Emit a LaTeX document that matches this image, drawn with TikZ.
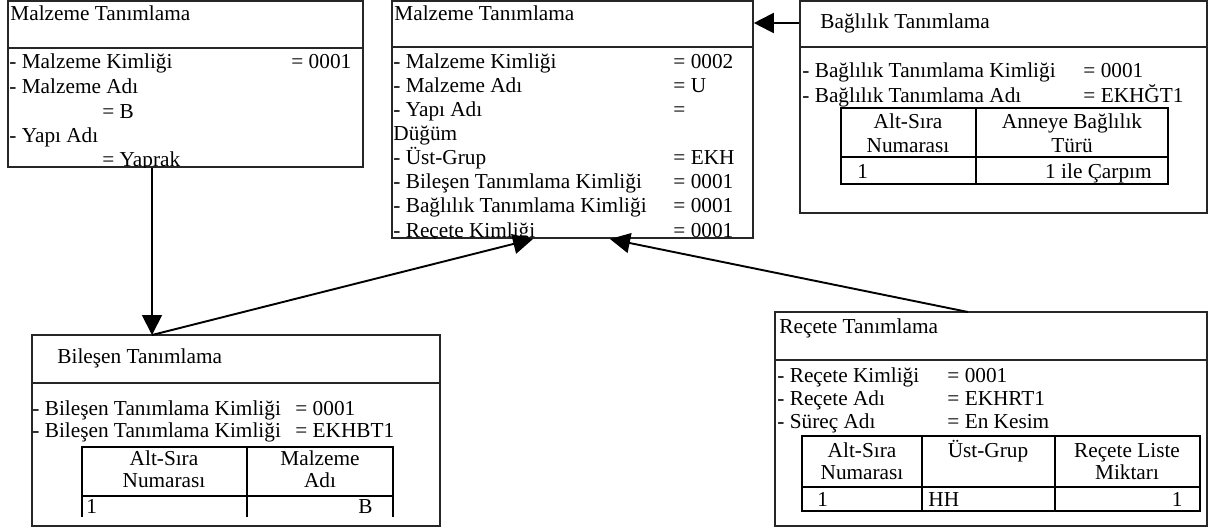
\documentclass[tikz,border=0pt]{standalone}
\usepackage{fontspec}
\setmainfont{Liberation Serif}
\usetikzlibrary{arrows.meta, positioning, fit}
\tikzset{
  umlbox/.style={draw=black!85, line width=0.75pt, inner sep=0pt},
  tblline/.style={line width=0.95pt},
  txt/.style={anchor=base west, inner sep=0pt},
  ctxt/.style={anchor=base, inner sep=0pt},
  rtxt/.style={anchor=base east, inner sep=0pt},
  conn/.style={line width=0.9pt, -{Triangle[length=9.4pt, width=9.4pt]}},
}

\begin{document}
\begin{tikzpicture}[x=0.47pt, y=-0.47pt, font=\fontsize{10}{12}\selectfont]
  \useasboundingbox (0,0) rectangle (1214,531);

  % Malzeme (Yaprak)
  \node[umlbox, fit={(8,1)(363,167)}] (malzA) {};
  \draw[umlbox] (8,48) -- (363,48);
  \begin{scope}
    \clip (malzA.north west) rectangle (malzA.south east);
    \node[txt] (aT) at (10,20) {Malzeme Tanımlama};
    \node[txt] (a1) at (9,68) {- Malzeme Kimliği};
    \node[txt] (a1v) at (291,68) {= 0001};
    \node[txt] (a2) at (9,93) {- Malzeme Adı};
    \node[txt] (a2v) at (102,118) {= B};
    \node[txt] (a3) at (9,142) {- Yapı Adı};
    \node[txt] (a3v) at (102,166) {= Yaprak};
  \end{scope}

  % Malzeme (Düğüm)
  \node[umlbox, fit={(392,1)(753,238)}] (malzB) {};
  \draw[umlbox] (392,47) -- (753,47);
  \begin{scope}
    \clip (malzB.north west) rectangle (malzB.south east);
    \node[txt] (bT) at (394,20) {Malzeme Tanımlama};
    \foreach \lab/\val [count=\i] in {- Malzeme Kimliği/= 0002, - Malzeme Adı/= U,
        - Yapı Adı/=, Düğüm/{}, - Üst-Grup/= EKH, - Bileşen Tanımlama Kimliği/= 0001,
        - Bağlılık Tanımlama Kimliği/= 0001, - Reçete Kimliği/= 0001} {
      \node[txt] (bL\i) at (393,{68+24.15*(\i-1)}) {\lab};
      \node[txt] (bV\i) at (673,{68+24.15*(\i-1)}) {\val};
    }
  \end{scope}

  % Bağlılık
  \node[umlbox, fit={(800,1)(1207,213)}] (bagC) {};
  \draw[umlbox] (800,47) -- (1207,47);
  \begin{scope}
    \clip (bagC.north west) rectangle (bagC.south east);
    \node[txt] (cT) at (820,28) {Bağlılık Tanımlama};
    \node[txt] (c1) at (802,77) {- Bağlılık Tanımlama Kimliği};
    \node[txt] (c1v) at (1083,77) {= 0001};
    \node[txt] (c2) at (802,102) {- Bağlılık Tanımlama Adı};
    \node[txt] (c2v) at (1083,102) {= EKHĞT1};
  \end{scope}
  \draw[tblline] (841,108) rectangle (1168,184);
  \draw[tblline] (841,157) -- (1168,157);
  \draw[tblline] (976,108) -- (976,184);
  \node[ctxt] (cH1) at (908,128) {Alt-Sıra};
  \node[ctxt] (cH1b) at (908,152) {Numarası};
  \node[ctxt] (cH2) at (1072,128) {Anneye Bağlılık};
  \node[ctxt] (cH2b) at (1072,152) {Türü};
  \node[txt] (cR1) at (857,178) {1};
  \node[rtxt] (cR2) at (1152,178) {1 ile Çarpım};

  % Bileşen
  \node[umlbox, fit={(32,335)(440,526)}] (bilD) {};
  \draw[umlbox] (32,383) -- (440,383);
  \begin{scope}
    \clip (bilD.north west) rectangle (bilD.south east);
    \node[txt] (dT) at (57,363) {Bileşen Tanımlama};
    \node[txt] (d1) at (32,415) {- Bileşen Tanımlama Kimliği};
    \node[txt] (d1v) at (295,415) {= 0001};
    \node[txt] (d2) at (32,437) {- Bileşen Tanımlama Kimliği};
    \node[txt] (d2v) at (295,437) {= EKHBT1};
  \end{scope}
  \draw[tblline] (82,517) -- (82,447) -- (393,447) -- (393,517);
  \draw[tblline] (82,496) -- (393,496);
  \draw[tblline] (247,447) -- (247,517);
  \node[ctxt] (dH1) at (164,465) {Alt-Sıra};
  \node[ctxt] (dH1b) at (164,487) {Numarası};
  \node[ctxt] (dH2) at (320,465) {Malzeme};
  \node[ctxt] (dH2b) at (320,487) {Adı};
  \node[txt] (dR1) at (86,513) {1};
  \node[rtxt] (dR2) at (373,513) {B};

  % Reçete
  \node[umlbox, fit={(775,312)(1207,526)}] (recE) {};
  \draw[umlbox] (775,360) -- (1207,360);
  \begin{scope}
    \clip (recE.north west) rectangle (recE.south east);
    \node[txt] (eT) at (779,333) {Reçete Tanımlama};
    \node[txt] (e1) at (777,382) {- Reçete Kimliği};
    \node[txt] (e1v) at (947,382) {= 0001};
    \node[txt] (e2) at (777,405) {- Reçete Adı};
    \node[txt] (e2v) at (947,405) {= EKHRT1};
    \node[txt] (e3) at (777,428) {- Süreç Adı};
    \node[txt] (e3v) at (947,428) {= En Kesim};
  \end{scope}
  \draw[tblline] (802,436) rectangle (1200,511);
  \draw[tblline] (802,487) -- (1200,487);
  \draw[tblline] (922,436) -- (922,511);
  \draw[tblline] (1055,436) -- (1055,511);
  \node[ctxt] (eH1) at (862,457) {Alt-Sıra};
  \node[ctxt] (eH1b) at (862,479) {Numarası};
  \node[ctxt] (eH2) at (988,457) {Üst-Grup};
  \node[ctxt] (eH3) at (1127,457) {Reçete Liste};
  \node[ctxt] (eH3b) at (1127,479) {Miktarı};
  \node[txt] (eR1) at (817,506) {1};
  \node[txt] (eR2) at (928,506) {HH};
  \node[rtxt] (eR3) at (1183,506) {1};

  % connectors
  \coordinate (dTop) at (152,335);
  \coordinate (bIn1) at (533,239);
  \coordinate (bIn2) at (610,239);
  \coordinate (eTop) at (968,312);
  \draw[conn] (malzA.south -| dTop) -- (dTop);
  \draw[conn] (dTop) -- (bIn1);
  \draw[conn] (eTop) -- (bIn2);
  \draw[conn] (bagC.west |- 0,23) -- (malzB.east |- 0,23);
\end{tikzpicture}
\end{document}
